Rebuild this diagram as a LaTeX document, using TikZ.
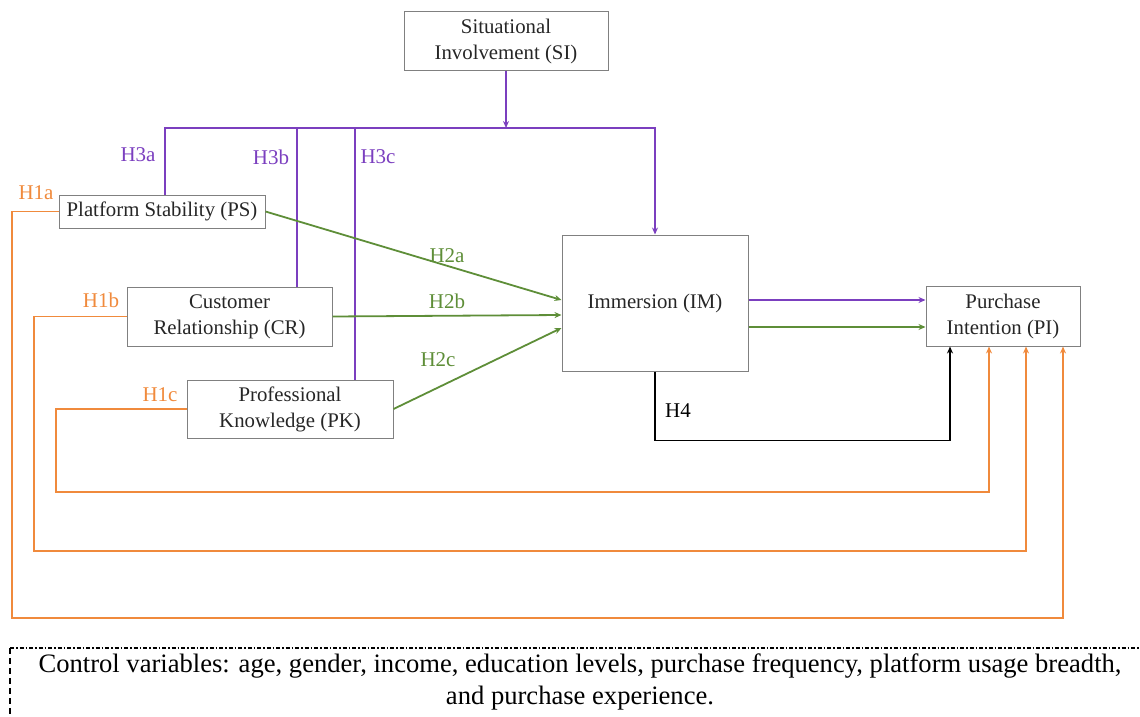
\documentclass[tikz,border=0pt]{standalone}
\usepackage{fontspec}
\setmainfont{LiberationSerif}[Extension=.ttf,UprightFont=*-Regular,BoldFont=*-Bold,ItalicFont=*-Italic,BoldItalicFont=*-BoldItalic]
\usetikzlibrary{arrows.meta}
\definecolor{pur}{HTML}{7B3FBF}
\definecolor{grn}{HTML}{5E8E38}
\definecolor{org}{HTML}{F08A3C}
\definecolor{boxgray}{HTML}{808080}
\begin{document}
\begin{tikzpicture}[x=1pt,y=-1pt,
  box/.style={draw=boxgray, line width=1pt, inner sep=0pt, align=center,
    font=\fontsize{20.8}{26}\selectfont, text=black!85},
  lbl/.style={font=\fontsize{21}{22}\selectfont, inner sep=0pt},
  arr/.style={-{Stealth[length=7pt,width=6pt]}},
  conn/.style={line width=1.8pt}]
\useasboundingbox (0,0) rectangle (1140,717);

\node[box, minimum width=204pt, minimum height=59pt] (SI) at (506,41.5) {Situational\\Involvement (SI)};
\node[box, minimum width=206pt, minimum height=33pt] (PS) at (162,211.5) {Platform Stability (PS)};
\node[box, minimum width=205pt, minimum height=59pt] (CR) at (229.5,316.5) {Customer\\Relationship (CR)};
\node[box, minimum width=206pt, minimum height=58pt] (PK) at (290,409) {Professional\\Knowledge (PK)};
\node[box, minimum width=186pt, minimum height=136pt] (IM) at (655,303) {Immersion (IM)};
\node[box, minimum width=154pt, minimum height=60pt] (PI) at (1003,316) {Purchase\\Intention (PI)};

\coordinate (top) at (506,128);

% purple moderation lines
\draw[pur,conn,arr] (SI.south) -- (top);
\draw[pur,conn,arr] ([xshift=3pt]PS.north) |- (IM.north |- top) -- (IM.north);
\draw[pur,conn] ([xshift=67.5pt]CR.north) -- ([xshift=67.5pt]CR.north |- top);
\draw[pur,conn] ([xshift=65pt]PK.north) -- ([xshift=65pt]PK.north |- top);
\node[lbl,text=pur] (l3a) at (138,155) {H3a};
\node[lbl,text=pur] (l3b) at (271,157) {H3b};
\node[lbl,text=pur] (l3c) at (378,157) {H3c};

% green paths
\draw[grn,conn,arr] (PS.east) -- ([yshift=3pt]IM.west);
\draw[grn,conn,arr] (CR.east) -- ([yshift=-12pt]IM.west);
\draw[grn,conn,arr] (PK.east) -- ([yshift=-25pt]IM.west);
\node[lbl,text=grn] (l2a) at (447,256) {H2a};
\node[lbl,text=grn] (l2b) at (447,301) {H2b};
\node[lbl,text=grn] (l2c) at (438,360) {H2c};

% IM -> PI
\draw[pur,conn,arr] ([yshift=3pt]IM.east) -- ([yshift=3pt]IM.east -| PI.west);
\draw[grn,conn,arr] ([yshift=-24pt]IM.east) -- ([yshift=-24pt]IM.east -| PI.west);

% H4
\draw[black,conn,arr] (IM.south) -- ++(0,69) -| ([xshift=-53pt]PI.south);
\node[lbl] (l4) at (678,411) {H4};

% orange paths
\coordinate (o1) at (12,618);
\coordinate (o2) at (34,551);
\coordinate (o3) at (56,492);
\draw[org,conn,arr] (PS.west) -| (o1) -| ([xshift=60pt]PI.south);
\draw[org,conn,arr] (CR.west) -| (o2) -| ([xshift=23pt]PI.south);
\draw[org,conn,arr] (PK.west) -| (o3) -| ([xshift=-14pt]PI.south);
\node[lbl,text=org] (l1a) at (36,193) {H1a};
\node[lbl,text=org] (l1b) at (101,300) {H1b};
\node[lbl,text=org] (l1c) at (160,395) {H1c};

% control variables box
\draw[line width=1.2pt, dash pattern=on 4pt off 2pt on 1.5pt off 2pt] (10,648) -- (1145,648);
\draw[line width=1.2pt, dash pattern=on 6pt off 4pt] (10,648) -- (10,720);
\node[font=\fontsize{26.6}{32}\selectfont, align=center, inner sep=0pt] (ctrl) at (580,682)
  {Control variables: age, gender, income, education levels, purchase frequency, platform usage breadth,\\and purchase experience.};
\end{tikzpicture}
\end{document}
